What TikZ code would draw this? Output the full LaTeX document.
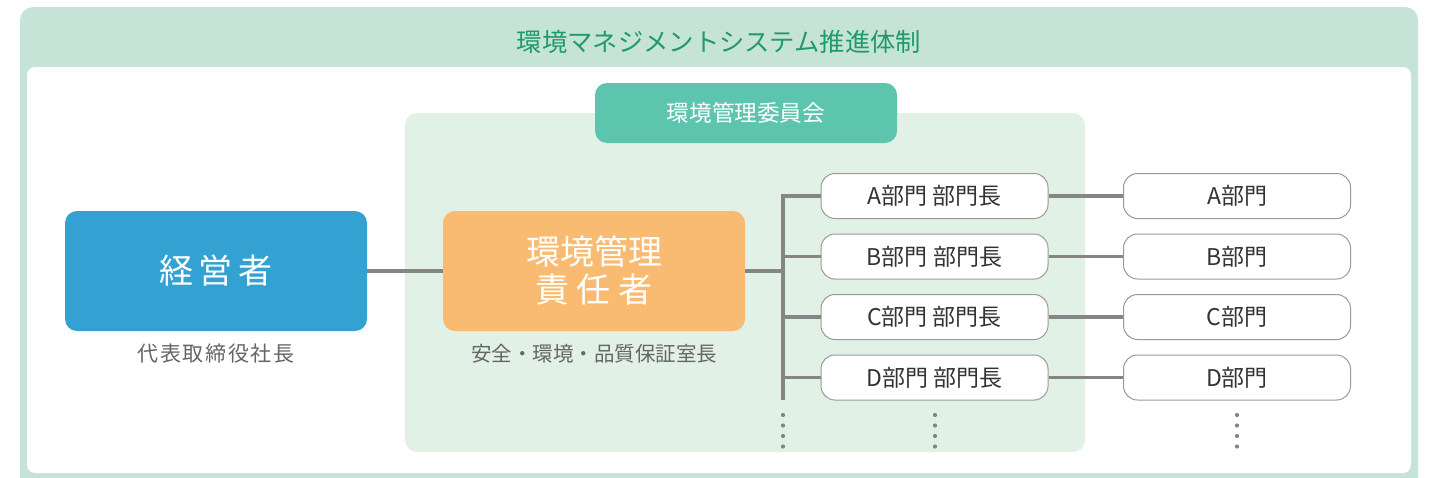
\documentclass[tikz,border=0pt]{standalone}
\usepackage{fontspec}
\setmainfont{Noto Sans CJK JP}
\definecolor{outergreen}{HTML}{C6E3D7}
\definecolor{panelgreen}{HTML}{E1F1E6}
\definecolor{teal}{HTML}{5DC4AE}
\definecolor{titlegreen}{HTML}{1F9A6B}
\definecolor{bossblue}{HTML}{33A2D3}
\definecolor{mgrorange}{HTML}{F9BB72}
\definecolor{linegray}{HTML}{858585}
\definecolor{bordergray}{HTML}{9A9A9A}
\definecolor{textdark}{HTML}{333333}
\definecolor{textgray}{HTML}{666666}
\begin{document}
\begin{tikzpicture}[x=1pt,y=-1pt,
  bigbox/.style={rounded corners=12pt, minimum width=302pt, minimum height=120pt, inner sep=0pt,
    text=white, align=center, font=\fontsize{34}{39}\selectfont},
  pill/.style={rounded corners=14pt, draw=bordergray, line width=1pt, fill=white,
    minimum width=227pt, minimum height=45pt, inner sep=0pt, text=textdark,
    font=\fontsize{23}{26}\selectfont},
  caption/.style={text=textgray, inner sep=0pt, font=\fontsize{21}{25}\selectfont},
  conn/.style={draw=linegray, line width=3.8pt},
  dot/.style={fill=linegray}
]
\useasboundingbox (0,0) rectangle (1430,477);
\clip (0,0) rectangle (1430,477);
% frames
\fill[outergreen, rounded corners=13pt] (20,7) rectangle (1418,492);
\fill[white, rounded corners=8pt] (27,67) rectangle (1411,473);
\node[text=titlegreen, inner sep=0pt, font=\fontsize{25.3}{29}\selectfont] (title) at (719,42) {環境マネジメントシステム推進体制};
\fill[panelgreen, rounded corners=12pt] (405,113) rectangle (1085,452);
\node[fill=teal, rounded corners=12pt, minimum width=302pt, minimum height=60pt, inner sep=0pt,
  text=white, font=\fontsize{22.6}{26}\selectfont] (committee) at (746,113) {環境管理委員会};
% main boxes
\node[bigbox, fill=bossblue] (boss) at (216,271) {経\hspace{6pt}営\hspace{6pt}者};
\node[caption] (bosscap) at (216,354) {代\hspace{1.7pt}表\hspace{1.7pt}取\hspace{1.7pt}締\hspace{1.7pt}役\hspace{1.7pt}社\hspace{1.7pt}長};
\node[bigbox, fill=mgrorange] (mgr) at (594,271) {環境管理\\[-1pt]責\hspace{8pt}任\hspace{8pt}者};
\node[caption, font=\fontsize{20.5}{24}\selectfont] (mgrcap) at (594,354) {安全・環境・品質保証室長};
% department heads and departments
\node[pill] (hA) at (934.5,196) {A部門 部門長};
\node[pill] (hB) at (934.5,256.5) {B部門 部門長};
\node[pill] (hC) at (934.5,317) {C部門 部門長};
\node[pill] (hD) at (934.5,377.5) {D部門 部門長};
\node[pill] (dA) at (1237,196) {A部門};
\node[pill] (dB) at (1237,256.5) {B部門};
\node[pill] (dC) at (1237,317) {C部門};
\node[pill] (dD) at (1237,377.5) {D部門};
% connectors
\coordinate (busT) at (783,194.1);
\coordinate (busB) at (783,400);
\draw[conn] (boss.east) -- (mgr.west);
\draw[conn] (busT) -- (busB);
\draw[conn] (mgr.east) -- (mgr.east -| busT);
\foreach \n in {A,B,C,D}{
  \draw[conn] (h\n.west -| busT) -- (h\n.west);
  \draw[conn] (h\n.east) -- (d\n.west);
}
% continuation dots
\foreach \x in {783,935,1237}{
  \foreach \y in {415,425.5,436,446.5}{
    \fill[dot] (\x,\y) circle (2.1pt);
  }
}
\end{tikzpicture}
\end{document}
